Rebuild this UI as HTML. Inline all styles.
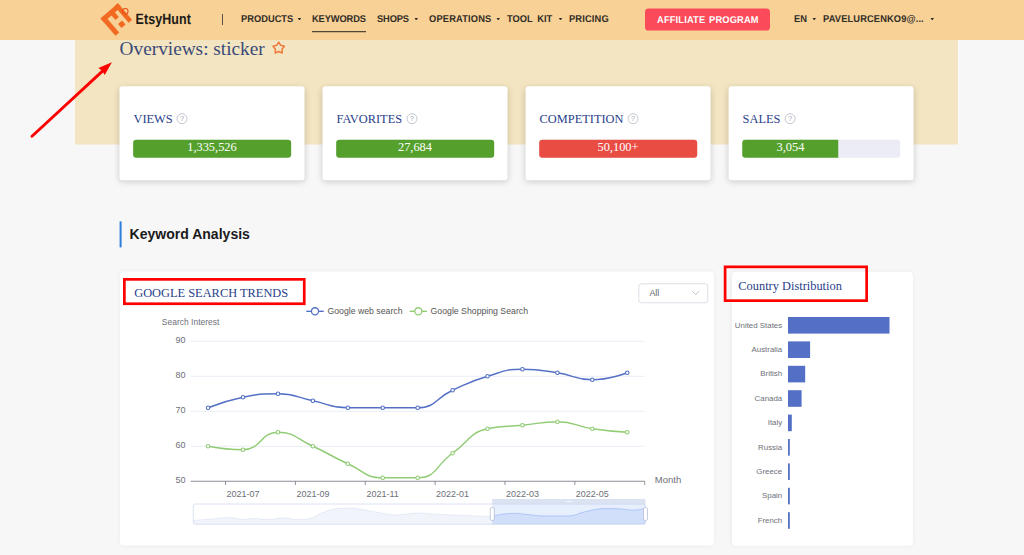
<!DOCTYPE html>
<html lang="en"><head><meta charset="utf-8"><title>EtsyHunt - Keywords</title>
<style>
*{box-sizing:border-box;margin:0;padding:0}
html,body{width:1024px;height:555px;overflow:hidden;background:#f7f7f8;font-family:"Liberation Sans",sans-serif;}
.abs{position:absolute}
#nav{position:absolute;left:0;top:0;width:1024px;height:40px;background:#f7d196;}
.ni{position:absolute;top:13px;font:bold 9.8px/11px "Liberation Sans",sans-serif;color:#332d27;white-space:nowrap;letter-spacing:0;transform:translateY(0.2px) skewX(.1deg) scaleX(.95);transform-origin:0 0}
.caret{position:absolute;top:18px;width:3.7px;height:2.4px;background:#332d27;clip-path:polygon(0 0,100% 0,50% 100%);transform:translate(0.5px,0px)}
#band{position:absolute;left:75px;top:40px;width:883px;height:104px;background:#f3e5c1;}
#band:after{content:'';position:absolute;left:0;top:104px;width:100%;height:1px;background:#f3e5c1;opacity:.5}
h1{position:absolute;left:119px;top:37px;font:normal 19.3px/22px "Liberation Serif",serif;color:#3b4a78;white-space:nowrap;transform:translate(0.6px,0.9px)}
.card{position:absolute;background:#fff;border-radius:3px;box-shadow:0 1.8px 6.5px rgba(0,0,0,.17);}
.card .lb{position:absolute;left:14px;top:25.9px;font:normal 12.38px/14px "Liberation Serif",serif;color:#28408a;white-space:nowrap;}
.card .q{position:absolute;top:27.1px;width:11.3px;height:11.3px;border:1px solid #c3c7d0;border-radius:50%;font:normal 8px/9.5px "Liberation Sans",sans-serif;color:#a6abb7;text-align:center;}
.card .bar{position:absolute;left:13px;top:53px;transform:translate(0.65px,0.5px);width:157.6px;height:18.2px;border-radius:3.2px;background:#ebecf6;}
.card .bar i{position:absolute;left:0;top:0;height:100%;display:block;border-radius:3.2px;}
.card .bar span{position:absolute;left:0;top:0;height:100%;text-align:center;font:normal 12.38px/16px "Liberation Serif",serif;color:#fff;transform:translateY(-0.45px)}
.h2{position:absolute;left:129.5px;top:225.5px;font:bold 14px/17px "Liberation Sans",sans-serif;color:#1a1a1a;white-space:nowrap;letter-spacing:.02px}
.panel{position:absolute;background:#fff;border-radius:4px;box-shadow:0 0 4px rgba(0,0,0,.05);}
.pt{position:absolute;font:normal 12.4px/14px "Liberation Serif",serif;color:#28408a;white-space:nowrap;}
svg text.ax{font:9px "Liberation Sans",sans-serif;fill:#6e7079;}
svg text.bl{font:7.9px "Liberation Sans",sans-serif;fill:#6e7079;}
svg text.lg{font:9px "Liberation Sans",sans-serif;fill:#555;}
</style></head><body>
<div id="nav">
  <svg class="abs" style="left:96px;top:0" width="44" height="40" viewBox="96 0 44 40">
    <g transform="translate(100.5 18.5) rotate(-41)" fill="#f26a21">
      <rect x="0" y="0" width="23.1" height="5"/>
      <rect x="0" y="0" width="5" height="22.8"/>
      <rect x="18.5" y="0" width="4.6" height="21.6"/>
      <rect x="10.2" y="4" width="4.6" height="7"/>
      <rect x="9.6" y="15.6" width="5.4" height="5.4"/>
    </g>
    <circle cx="125.3" cy="11.3" r="2.75" fill="none" stroke="#ea4f1a" stroke-width="1.05"/>
  </svg>
  <div class="abs" style="left:135px;top:10px;font:bold 15px/17px 'Liberation Sans',sans-serif;color:#1d1a17;letter-spacing:.1px;white-space:nowrap;transform:translate(0.5px,0.45px) skewX(.1deg) scaleX(.832);transform-origin:0 0">EtsyHunt</div>
  <div class="abs" style="left:221.6px;top:13.5px;width:1px;height:11px;background:#5a5248"></div>
  <div class="ni" style="left:240.5px">PRODUCTS</div><div class="caret" style="left:297.1px"></div>
  <div class="ni" style="left:312.3px;letter-spacing:-.13px">KEYWORDS</div>
  <div class="abs" style="left:312px;top:31px;width:54px;height:1.4px;transform:translate(0.00px,0.20px);background:#2b2622"></div>
  <div class="ni" style="left:376.5px;letter-spacing:-.15px">SHOPS</div><div class="caret" style="left:413.9px"></div>
  <div class="ni" style="left:428.5px;letter-spacing:.17px">OPERATIONS</div><div class="caret" style="left:495.9px"></div>
  <div class="ni" style="left:507.2px;word-spacing:2.2px">TOOL KIT</div><div class="caret" style="left:558.2px"></div>
  <div class="ni" style="left:569.4px;letter-spacing:.15px">PRICING</div>
  <div class="abs" style="left:645px;top:8px;width:125px;height:21.7px;transform:translate(0.00px,0.50px);border-radius:3.6px;background:#fb4a5a"></div>
  <div class="ni" style="left:656.5px;color:#fff;transform:translateY(1px) skewX(.1deg) scaleX(.95);word-spacing:1px;letter-spacing:.17px">AFFILIATE PROGRAM</div>
  <div class="ni" style="left:794px">EN</div><div class="caret" style="left:811.9px"></div>
  <div class="ni" style="left:822.8px;letter-spacing:.13px">PAVELURCENKO9@...</div><div class="caret" style="left:929.9px"></div>
</div>
<div id="band"></div>
<h1>Overviews: sticker</h1>
<svg class="abs" style="left:268px;top:38px" width="22" height="20" viewBox="268 38 22 20"><path d="M278.70 42.10 L280.73 45.31 L284.41 46.25 L281.98 49.17 L282.23 52.95 L278.70 51.55 L275.17 52.95 L275.42 49.17 L272.99 46.25 L276.67 45.31 Z" fill="none" stroke="#ee7b3d" stroke-width="1.5" stroke-linejoin="round"/></svg>

<div class="card" style="left:119px;top:86px;width:185.3px;height:93.8px;transform:translate(0.50px,0.20px);"><div class="lb">VIEWS</div><div class="q" style="left:56.9px">?</div>
  <div class="bar"><i style="width:100%;background:#55a02d"></i><span style="width:100%">1,335,526</span></div></div>
<div class="card" style="left:322px;top:86px;width:185.3px;height:93.8px;transform:translate(0.53px,0.20px);"><div class="lb">FAVORITES</div><div class="q" style="left:83.6px">?</div>
  <div class="bar"><i style="width:100%;background:#55a02d"></i><span style="width:100%">27,684</span></div></div>
<div class="card" style="left:525px;top:86px;width:185.3px;height:93.8px;transform:translate(0.56px,0.20px);"><div class="lb">COMPETITION</div><div class="q" style="left:101.8px">?</div>
  <div class="bar"><i style="width:100%;background:#e84c43"></i><span style="width:100%">50,100+</span></div></div>
<div class="card" style="left:728px;top:86px;width:185.3px;height:93.8px;transform:translate(0.59px,0.20px);"><div class="lb">SALES</div><div class="q" style="left:55.7px">?</div>
  <div class="bar"><i style="width:61.2%;background:#55a02d;border-radius:3.2px 0 0 3.2px"></i><span style="width:61.2%">3,054</span></div></div>

<div class="abs" style="left:119px;top:221px;width:2.2px;height:26.2px;transform:translate(0.60px,0.40px);background:#2d7fdb"></div>
<div class="h2">Keyword Analysis</div>

<div class="panel" style="left:120px;top:271px;width:594.2px;height:274px;transform:translate(0.00px,0.60px);"></div>
<div class="panel" style="left:731px;top:271px;width:181px;height:273.8px;transform:translate(0.90px,0.80px);"></div>
<div class="pt" style="left:134.2px;top:286.1px">GOOGLE SEARCH TRENDS</div>
<div class="pt" style="left:738.3px;top:279.4px">Country Distribution</div>

<div class="abs" style="left:638px;top:283px;width:69.7px;height:19.9px;transform:translate(0.30px,0.30px);border:1px solid #dcdfe6;border-radius:3px;background:#fff"></div>
<div class="abs" style="left:649.4px;top:288.2px;font:8.8px/10px 'Liberation Sans',sans-serif;color:#606266">All</div>
<svg class="abs" style="left:690px;top:288px" width="12" height="10" viewBox="0 0 12 10"><path d="M2.2 3.2 L5.7 6.6 L9.2 3.2" fill="none" stroke="#b9bcc4" stroke-width="0.9"/></svg>

<svg class="abs" style="left:0;top:0" width="1024" height="555" viewBox="0 0 1024 555">
  <rect x="124.35" y="279.35" width="179.9" height="24.4" fill="none" stroke="#fe0000" stroke-width="2.7"/>
  <rect x="725.1" y="266.85" width="141.55" height="33.8" fill="none" stroke="#fe0000" stroke-width="2.7"/>
  <text x="161.8" y="325.1" class="ax" textLength="57.6" lengthAdjust="spacingAndGlyphs">Search Interest</text>
  <line x1="306.3" y1="311.3" x2="323.8" y2="311.3" stroke="#5470c6" stroke-width="1.35"/>
  <circle cx="315" cy="311.3" r="3.55" fill="#fff" stroke="#5470c6" stroke-width="1.3"/>
  <text x="327.5" y="313.9" class="lg" textLength="75" lengthAdjust="spacingAndGlyphs">Google web search</text>
  <line x1="409.6" y1="311.3" x2="427" y2="311.3" stroke="#91cc75" stroke-width="1.35"/>
  <circle cx="418.3" cy="311.3" r="3.55" fill="#fff" stroke="#91cc75" stroke-width="1.3"/>
  <text x="430.6" y="313.9" class="lg" textLength="97.4" lengthAdjust="spacingAndGlyphs">Google Shopping Search</text>
  <line x1="190.6" y1="341.25" x2="644.7" y2="341.25" stroke="#e0e6f1" stroke-width="0.75"/><line x1="190.6" y1="376.25" x2="644.7" y2="376.25" stroke="#e0e6f1" stroke-width="0.75"/><line x1="190.6" y1="411.25" x2="644.7" y2="411.25" stroke="#e0e6f1" stroke-width="0.75"/><line x1="190.6" y1="446.25" x2="644.7" y2="446.25" stroke="#e0e6f1" stroke-width="0.75"/>
  <text x="185.6" y="343.4" text-anchor="end" class="ax">90</text><text x="185.6" y="378.4" text-anchor="end" class="ax">80</text><text x="185.6" y="413.4" text-anchor="end" class="ax">70</text><text x="185.6" y="448.4" text-anchor="end" class="ax">60</text><text x="185.6" y="483.4" text-anchor="end" class="ax">50</text>
  <line x1="190.6" y1="481.25" x2="644.7" y2="481.25" stroke="#6e7079" stroke-width="0.8"/>
  <line x1="225.53" y1="481.25" x2="225.53" y2="485" stroke="#6e7079" stroke-width="0.75"/><line x1="295.39" y1="481.25" x2="295.39" y2="485" stroke="#6e7079" stroke-width="0.75"/><line x1="365.25" y1="481.25" x2="365.25" y2="485" stroke="#6e7079" stroke-width="0.75"/><line x1="435.12" y1="481.25" x2="435.12" y2="485" stroke="#6e7079" stroke-width="0.75"/><line x1="504.98" y1="481.25" x2="504.98" y2="485" stroke="#6e7079" stroke-width="0.75"/><line x1="574.84" y1="481.25" x2="574.84" y2="485" stroke="#6e7079" stroke-width="0.75"/><line x1="644.70" y1="481.25" x2="644.70" y2="485" stroke="#6e7079" stroke-width="0.75"/>
  <text x="243.0" y="497.1" text-anchor="middle" class="ax">2021-07</text><text x="312.9" y="497.1" text-anchor="middle" class="ax">2021-09</text><text x="382.7" y="497.1" text-anchor="middle" class="ax">2021-11</text><text x="452.6" y="497.1" text-anchor="middle" class="ax">2022-01</text><text x="522.4" y="497.1" text-anchor="middle" class="ax">2022-03</text><text x="592.3" y="497.1" text-anchor="middle" class="ax">2022-05</text>
  <text x="654.8" y="483.3" class="ax" textLength="26.4" lengthAdjust="spacingAndGlyphs">Month</text>
  <path d="M208.07 407.75 C208.07 407.75 225.20 400.82 243.00 397.25 C260.13 393.82 260.59 393.75 277.93 393.75 C295.52 393.75 295.39 397.25 312.86 400.75 C330.32 404.25 330.15 407.75 347.79 407.75 C365.08 407.75 365.25 407.75 382.72 407.75 C400.18 407.75 401.16 407.75 417.65 407.75 C436.09 407.75 434.79 398.27 452.58 390.25 C469.72 382.52 469.57 381.64 487.51 376.25 C504.50 371.14 504.85 369.25 522.44 369.25 C539.78 369.25 540.04 370.14 557.37 372.75 C574.97 375.39 574.84 379.75 592.30 379.75 C609.77 379.75 627.23 372.75 627.23 372.75" fill="none" stroke="#5470c6" stroke-width="1.45" stroke-linejoin="round"/>
<circle cx="208.07" cy="407.75" r="1.75" fill="#fff" stroke="#5470c6" stroke-width="1.1"/>
<circle cx="243.00" cy="397.25" r="1.75" fill="#fff" stroke="#5470c6" stroke-width="1.1"/>
<circle cx="277.93" cy="393.75" r="1.75" fill="#fff" stroke="#5470c6" stroke-width="1.1"/>
<circle cx="312.86" cy="400.75" r="1.75" fill="#fff" stroke="#5470c6" stroke-width="1.1"/>
<circle cx="347.79" cy="407.75" r="1.75" fill="#fff" stroke="#5470c6" stroke-width="1.1"/>
<circle cx="382.72" cy="407.75" r="1.75" fill="#fff" stroke="#5470c6" stroke-width="1.1"/>
<circle cx="417.65" cy="407.75" r="1.75" fill="#fff" stroke="#5470c6" stroke-width="1.1"/>
<circle cx="452.58" cy="390.25" r="1.75" fill="#fff" stroke="#5470c6" stroke-width="1.1"/>
<circle cx="487.51" cy="376.25" r="1.75" fill="#fff" stroke="#5470c6" stroke-width="1.1"/>
<circle cx="522.44" cy="369.25" r="1.75" fill="#fff" stroke="#5470c6" stroke-width="1.1"/>
<circle cx="557.37" cy="372.75" r="1.75" fill="#fff" stroke="#5470c6" stroke-width="1.1"/>
<circle cx="592.30" cy="379.75" r="1.75" fill="#fff" stroke="#5470c6" stroke-width="1.1"/>
<circle cx="627.23" cy="372.75" r="1.75" fill="#fff" stroke="#5470c6" stroke-width="1.1"/>
<path d="M208.07 446.25 C208.07 446.25 226.46 449.75 243.00 449.75 C261.39 449.75 260.13 432.25 277.93 432.25 C295.07 432.25 295.72 438.52 312.86 446.25 C330.65 454.27 330.00 455.73 347.79 463.75 C364.93 471.48 364.60 477.75 382.72 477.75 C399.53 477.75 401.93 477.75 417.65 477.75 C436.86 477.75 435.12 465.50 452.58 453.25 C470.05 441.00 468.35 433.00 487.51 428.75 C503.28 425.25 504.98 427.00 522.44 425.25 C539.91 423.50 540.04 421.75 557.37 421.75 C574.97 421.75 574.71 426.11 592.30 428.75 C609.64 431.36 627.23 432.25 627.23 432.25" fill="none" stroke="#91cc75" stroke-width="1.45" stroke-linejoin="round"/>
<circle cx="208.07" cy="446.25" r="1.75" fill="#fff" stroke="#91cc75" stroke-width="1.1"/>
<circle cx="243.00" cy="449.75" r="1.75" fill="#fff" stroke="#91cc75" stroke-width="1.1"/>
<circle cx="277.93" cy="432.25" r="1.75" fill="#fff" stroke="#91cc75" stroke-width="1.1"/>
<circle cx="312.86" cy="446.25" r="1.75" fill="#fff" stroke="#91cc75" stroke-width="1.1"/>
<circle cx="347.79" cy="463.75" r="1.75" fill="#fff" stroke="#91cc75" stroke-width="1.1"/>
<circle cx="382.72" cy="477.75" r="1.75" fill="#fff" stroke="#91cc75" stroke-width="1.1"/>
<circle cx="417.65" cy="477.75" r="1.75" fill="#fff" stroke="#91cc75" stroke-width="1.1"/>
<circle cx="452.58" cy="453.25" r="1.75" fill="#fff" stroke="#91cc75" stroke-width="1.1"/>
<circle cx="487.51" cy="428.75" r="1.75" fill="#fff" stroke="#91cc75" stroke-width="1.1"/>
<circle cx="522.44" cy="425.25" r="1.75" fill="#fff" stroke="#91cc75" stroke-width="1.1"/>
<circle cx="557.37" cy="421.75" r="1.75" fill="#fff" stroke="#91cc75" stroke-width="1.1"/>
<circle cx="592.30" cy="428.75" r="1.75" fill="#fff" stroke="#91cc75" stroke-width="1.1"/>
<circle cx="627.23" cy="432.25" r="1.75" fill="#fff" stroke="#91cc75" stroke-width="1.1"/>
  <!-- data zoom -->
  <rect x="193.3" y="504" width="452" height="20.2" rx="2" fill="#fff" stroke="#d2dbee" stroke-width="0.8"/>
  <path d="M193.30 520.60 C193.30 520.60 204.52 519.61 212.00 519.00 C219.20 518.41 222.82 517.60 230.00 517.60 C234.82 517.60 237.18 519.40 242.00 519.40 C247.18 519.40 249.80 518.60 255.00 518.60 C260.20 518.60 262.81 519.60 268.00 519.60 C274.01 519.60 277.00 518.00 283.00 518.00 C289.00 518.00 291.99 519.60 298.00 519.60 C302.79 519.60 305.43 519.60 310.00 518.60 C315.03 517.50 317.07 514.91 322.00 513.00 C327.07 511.03 329.67 509.63 335.00 508.90 C340.87 508.10 344.03 508.10 350.00 508.10 C358.03 508.10 362.00 509.83 370.00 511.00 C380.80 512.59 386.17 515.00 397.00 515.00 C404.97 515.00 408.99 513.10 417.00 513.10 C424.59 513.10 428.40 513.80 436.00 514.20 C447.20 514.80 452.80 515.16 464.00 515.60 C475.28 516.04 492.20 516.40 492.20 516.40 L492.2 524.2 L193.3 524.2 Z" fill="#d2dbee" fill-opacity="0.3" stroke="none"/>
  <path d="M193.30 520.60 C193.30 520.60 204.52 519.61 212.00 519.00 C219.20 518.41 222.82 517.60 230.00 517.60 C234.82 517.60 237.18 519.40 242.00 519.40 C247.18 519.40 249.80 518.60 255.00 518.60 C260.20 518.60 262.81 519.60 268.00 519.60 C274.01 519.60 277.00 518.00 283.00 518.00 C289.00 518.00 291.99 519.60 298.00 519.60 C302.79 519.60 305.43 519.60 310.00 518.60 C315.03 517.50 317.07 514.91 322.00 513.00 C327.07 511.03 329.67 509.63 335.00 508.90 C340.87 508.10 344.03 508.10 350.00 508.10 C358.03 508.10 362.00 509.83 370.00 511.00 C380.80 512.59 386.17 515.00 397.00 515.00 C404.97 515.00 408.99 513.10 417.00 513.10 C424.59 513.10 428.40 513.80 436.00 514.20 C447.20 514.80 452.80 515.16 464.00 515.60 C475.28 516.04 492.20 516.40 492.20 516.40" fill="none" stroke="#d2dbee" stroke-width="0.5"/>
  <rect x="492.2" y="499" width="153.3" height="5" fill="#d2dbee" fill-opacity="0.8"/>
  <rect x="492.2" y="504" width="153.3" height="20.2" fill="#87aff7" fill-opacity="0.2"/>
  <path d="M492.20 516.40 C492.20 516.40 498.64 514.78 503.00 514.20 C507.64 513.58 510.02 513.40 514.70 513.40 C520.02 513.40 522.68 514.11 528.00 514.60 C534.00 515.15 536.98 516.00 543.00 516.00 C552.98 516.00 558.13 516.00 568.00 516.00 C575.33 516.00 578.73 512.97 586.00 511.50 C593.41 510.01 597.18 508.60 604.70 508.60 C610.78 508.60 613.89 508.60 620.00 508.90 C625.21 509.16 627.81 510.20 633.00 510.20 C638.01 510.20 645.50 508.40 645.50 508.40 L645.5 524.2 L492.2 524.2 Z" fill="#8fb0f7" fill-opacity="0.25"/>
  <path d="M492.20 516.40 C492.20 516.40 498.64 514.78 503.00 514.20 C507.64 513.58 510.02 513.40 514.70 513.40 C520.02 513.40 522.68 514.11 528.00 514.60 C534.00 515.15 536.98 516.00 543.00 516.00 C552.98 516.00 558.13 516.00 568.00 516.00 C575.33 516.00 578.73 512.97 586.00 511.50 C593.41 510.01 597.18 508.60 604.70 508.60 C610.78 508.60 613.89 508.60 620.00 508.90 C625.21 509.16 627.81 510.20 633.00 510.20 C638.01 510.20 645.50 508.40 645.50 508.40" fill="none" stroke="#8fb0f7" stroke-width="0.6"/>
  <rect x="566.2" y="500.9" width="1.2" height="1.2" fill="#fff"/><rect x="568.3" y="500.9" width="1.2" height="1.2" fill="#fff"/><rect x="570.4" y="500.9" width="1.2" height="1.2" fill="#fff"/>
  <rect x="490.3" y="507.6" width="4" height="12.8" rx="1.3" fill="#fff" stroke="#acb8d1" stroke-width="0.7"/>
  <rect x="643.5" y="507.6" width="4" height="12.8" rx="1.3" fill="#fff" stroke="#acb8d1" stroke-width="0.7"/>
  <!-- bars -->
  <rect x="788" y="317.0" width="101.5" height="16.6" fill="#5470c6"/>
<text x="782.2" y="327.6" text-anchor="end" class="bl">United States</text>
<rect x="788" y="341.4" width="22.1" height="16.6" fill="#5470c6"/>
<text x="782.2" y="352.0" text-anchor="end" class="bl">Australia</text>
<rect x="788" y="365.8" width="17.2" height="16.6" fill="#5470c6"/>
<text x="782.2" y="376.4" text-anchor="end" class="bl">British</text>
<rect x="788" y="390.2" width="13.6" height="16.6" fill="#5470c6"/>
<text x="782.2" y="400.8" text-anchor="end" class="bl">Canada</text>
<rect x="788" y="414.6" width="3.8" height="16.6" fill="#5470c6"/>
<text x="782.2" y="425.2" text-anchor="end" class="bl">Italy</text>
<rect x="788" y="439.0" width="1.8" height="16.6" fill="#5470c6"/>
<text x="782.2" y="449.6" text-anchor="end" class="bl">Russia</text>
<rect x="788" y="463.4" width="1.8" height="16.6" fill="#5470c6"/>
<text x="782.2" y="474.0" text-anchor="end" class="bl">Greece</text>
<rect x="788" y="487.8" width="1.8" height="16.6" fill="#5470c6"/>
<text x="782.2" y="498.4" text-anchor="end" class="bl">Spain</text>
<rect x="788" y="512.2" width="1.8" height="16.6" fill="#5470c6"/>
<text x="782.2" y="522.8" text-anchor="end" class="bl">French</text>
  <!-- annotation arrow -->
  <line x1="32" y1="136.2" x2="103" y2="70.6" stroke="#fe0000" stroke-width="2.9" stroke-linecap="round"/>
  <path d="M111.9 62.3 L104.7 74.9 L102.4 70.9 L98.4 68.1 Z" fill="#fe0000"/>
</svg>
</body></html>
